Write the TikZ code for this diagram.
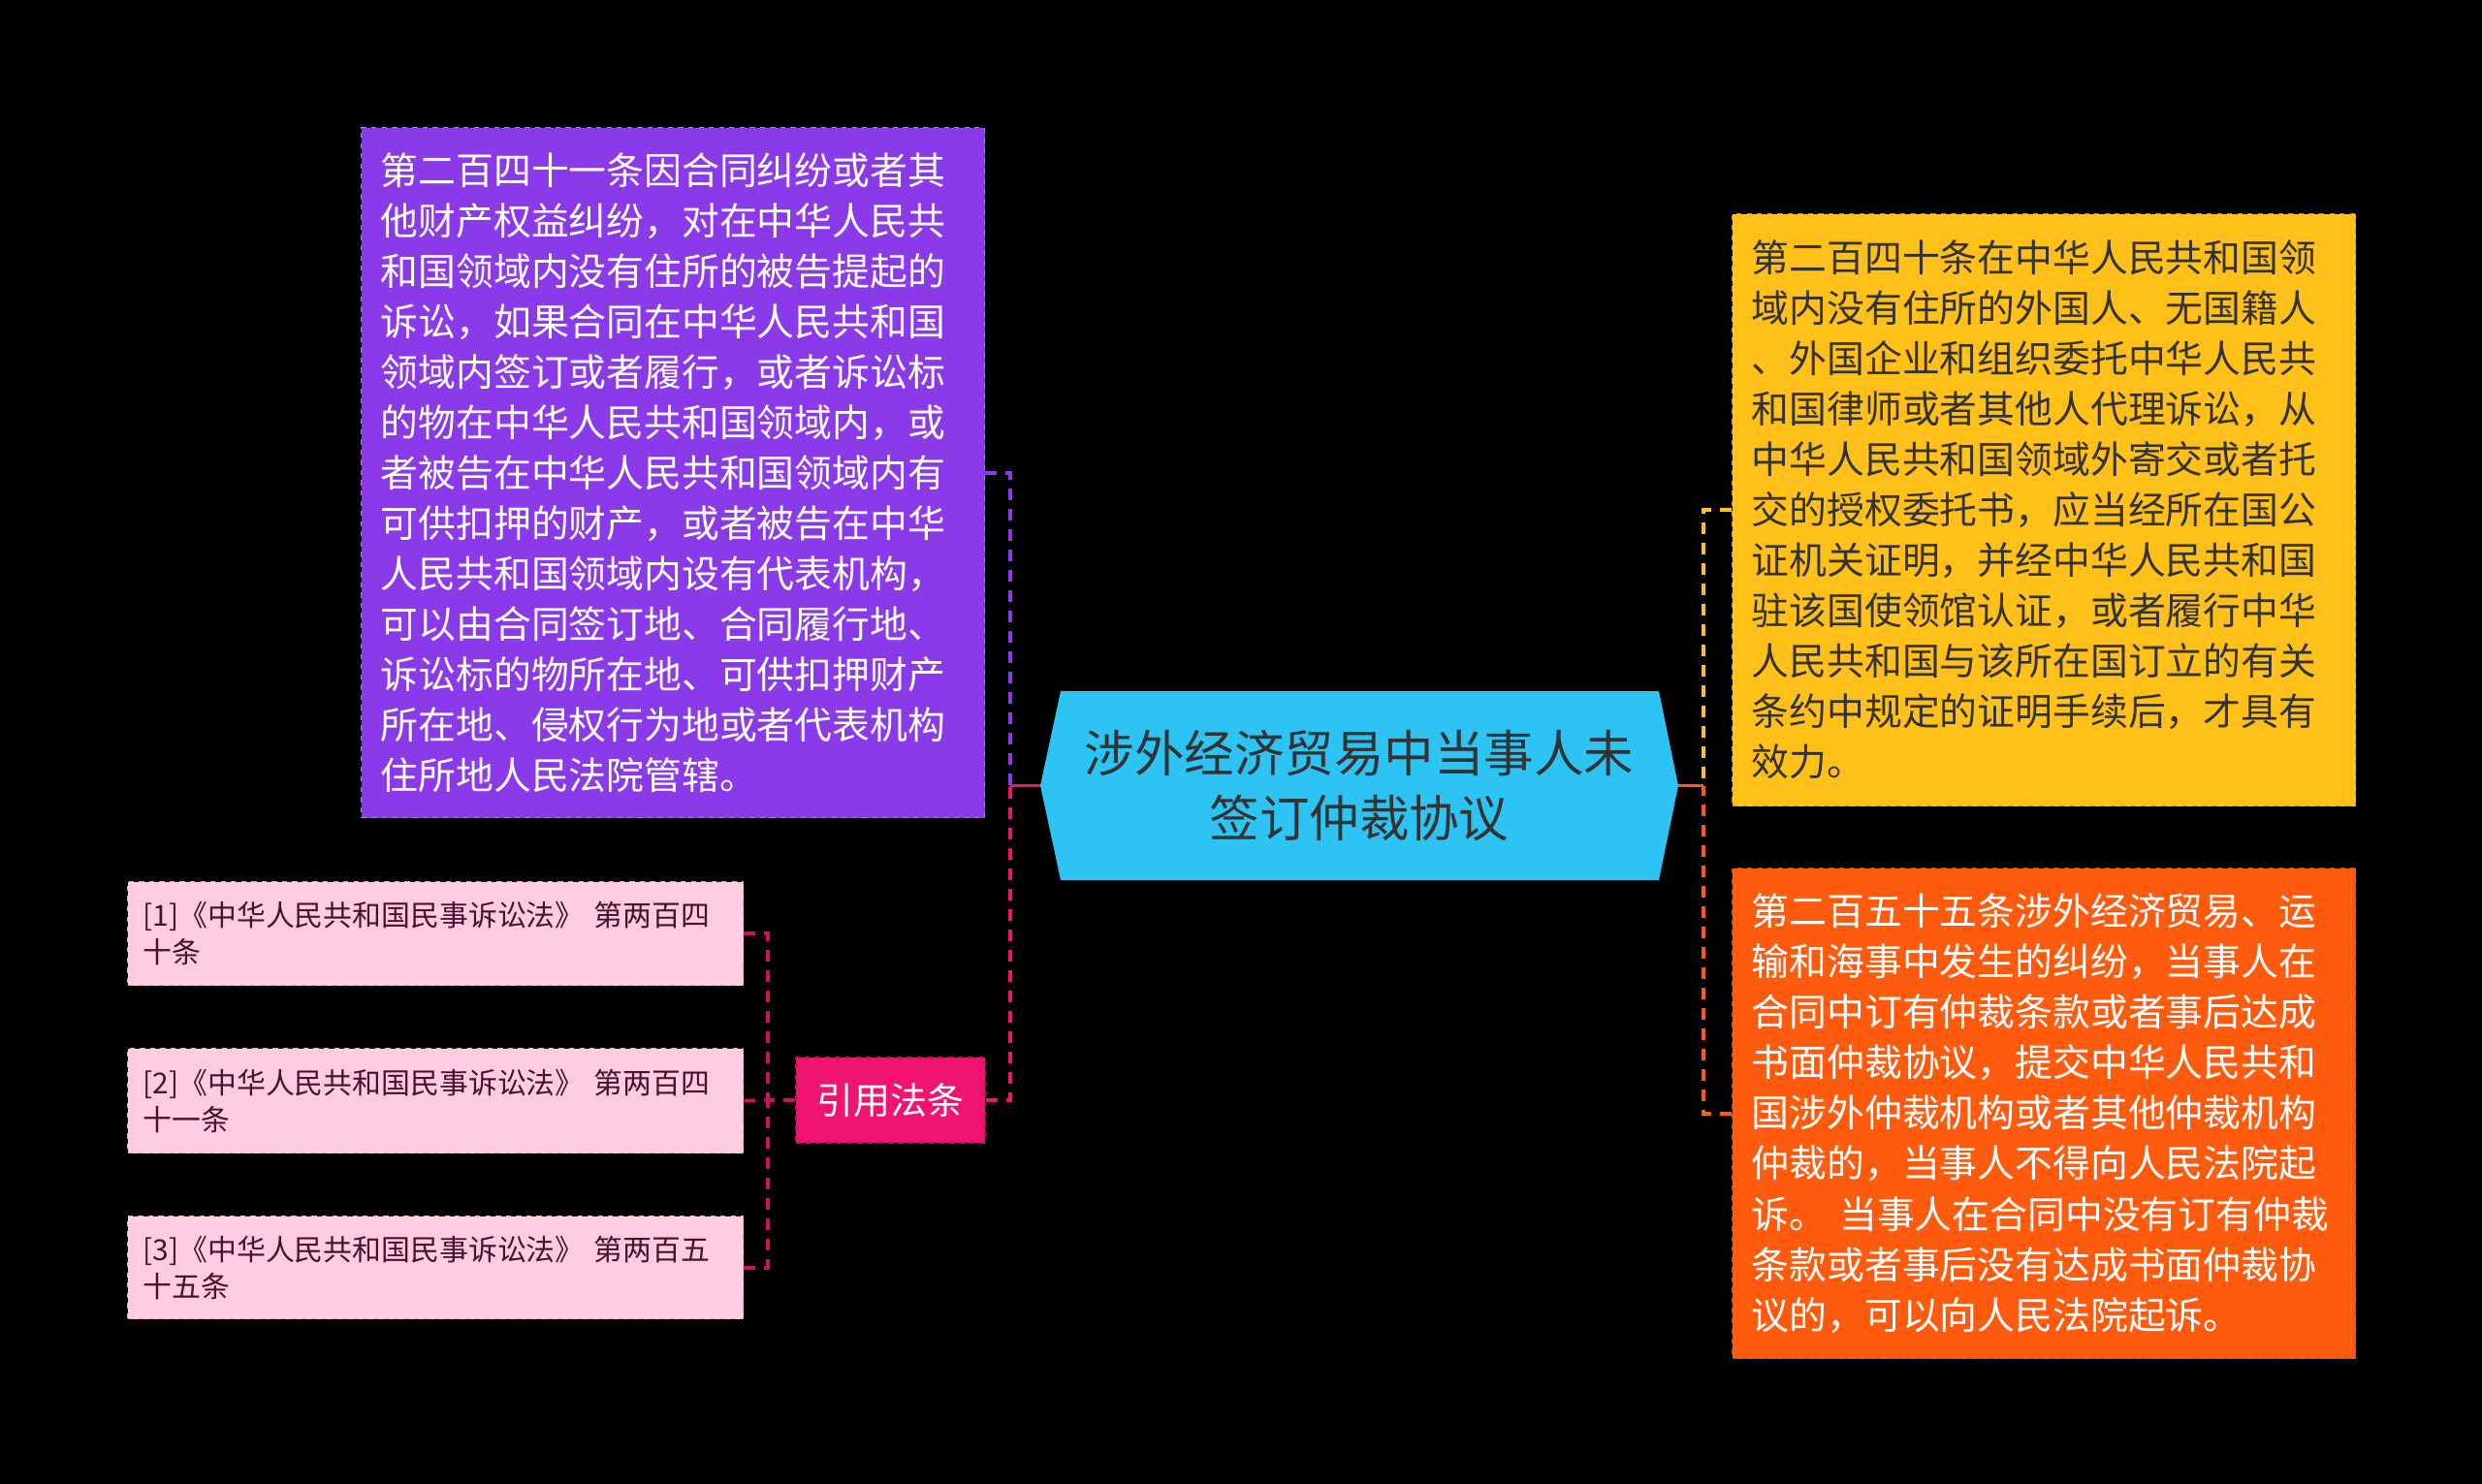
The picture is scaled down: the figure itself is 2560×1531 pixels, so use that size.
\documentclass[tikz,border=0pt]{standalone}
\usepackage{fontspec}
\setmainfont{Noto Sans CJK SC}

\definecolor{purplebg}{HTML}{8A3AE8}
\definecolor{yellowbg}{HTML}{FFC01A}
\definecolor{orangebg}{HTML}{FF5B0E}
\definecolor{topicblue}{HTML}{2DC3F3}
\definecolor{citepink}{HTML}{F01470}
\definecolor{refpink}{HTML}{FFCCE2}
\definecolor{reftext}{HTML}{4B1030}
\definecolor{darktext}{HTML}{333333}

\tikzset{
	lawbox/.style={rectangle, anchor=north west, text width=12.06cm, inner xsep=0.4cm, inner ysep=0pt, align=left, dashed, line width=0.8pt, font=\fontsize{22.1pt}{29.6pt}\selectfont},
	refbox/.style={rectangle, anchor=north west, text width=12.06cm, inner xsep=0.32cm, inner ysep=0pt, align=left, fill=refpink, draw=refpink!85!black, dashed, line width=0.8pt, text=reftext, font=\fontsize{17pt}{21.6pt}\selectfont},
	link/.style={line width=2.2pt, dash pattern=on 0.24cm off 0.18cm},
}

\begin{document}
\begin{tikzpicture}[x=0.02cm, y=-0.02cm]
		\fill[black] (0,0) rectangle (2560,1531);
		\fill[topicblue] (1073,810.5) -- (1094,713) -- (1711,713) -- (1731,810.5) -- (1711,908) -- (1094,908) -- cycle;
		\node[minimum width=13.16cm, minimum height=3.9cm, inner sep=0pt, align=center, text=darktext, font=\fontsize{29.3pt}{38pt}\selectfont] (topic) at (1402,810.5) {涉外经济贸易中当事人未\\签订仲裁协议};
		\node[lawbox, fill=purplebg, draw=purplebg!70!white, text=white, minimum height=14.24cm] (art241) at (372,131) {第二百四十一条因合同纠纷或者其\\他财产权益纠纷，对在中华人民共\\和国领域内没有住所的被告提起的\\诉讼，如果合同在中华人民共和国\\领域内签订或者履行，或者诉讼标\\的物在中华人民共和国领域内，或\\者被告在中华人民共和国领域内有\\可供扣押的财产，或者被告在中华\\人民共和国领域内设有代表机构，\\可以由合同签订地、合同履行地、\\诉讼标的物所在地、可供扣押财产\\所在地、侵权行为地或者代表机构\\住所地人民法院管辖。};
		\node[lawbox, fill=yellowbg, draw=yellowbg!80!black, text=darktext, minimum height=12.22cm] (art240) at (1786,220) {第二百四十条在中华人民共和国领\\域内没有住所的外国人、无国籍人\\、外国企业和组织委托中华人民共\\和国律师或者其他人代理诉讼，从\\中华人民共和国领域外寄交或者托\\交的授权委托书，应当经所在国公\\证机关证明，并经中华人民共和国\\驻该国使领馆认证，或者履行中华\\人民共和国与该所在国订立的有关\\条约中规定的证明手续后，才具有\\效力。};
		\node[lawbox, fill=orangebg, draw=orangebg!80!black, text=white, minimum height=10.12cm] (art255) at (1786,895) {第二百五十五条涉外经济贸易、运\\输和海事中发生的纠纷，当事人在\\合同中订有仲裁条款或者事后达成\\书面仲裁协议，提交中华人民共和\\国涉外仲裁机构或者其他仲裁机构\\仲裁的，当事人不得向人民法院起\\诉。 当事人在合同中没有订有仲裁\\条款或者事后没有达成书面仲裁协\\议的，可以向人民法院起诉。};
		\node[rectangle, fill=citepink, draw=citepink!80!black, dashed, line width=0.8pt, minimum width=3.9cm, minimum height=1.76cm, inner sep=0pt, text=white, font=\fontsize{21.6pt}{26pt}\selectfont] (cite) at (918.5,1135) {引用法条};
		\node[refbox, minimum height=2.14cm] (ref1) at (131,909) {[1]《中华人民共和国民事诉讼法》 第两百四\\十条};
		\node[refbox, minimum height=2.16cm] (ref2) at (131,1081) {[2]《中华人民共和国民事诉讼法》 第两百四\\十一条};
		\node[refbox, minimum height=2.12cm] (ref3) at (131,1254) {[3]《中华人民共和国民事诉讼法》 第两百五\\十五条};
		\coordinate (lj) at (1042,810.5);
		\coordinate (rj) at (1757,810.5);
		\coordinate (cj) at (792,1135);
		\draw[citepink, line width=2.2pt] (topic.west) -- (lj);
		\draw[orangebg, line width=2.2pt] (topic.east) -- (rj);
		\draw[purplebg, link] (art241.east) -| (lj);
		\draw[citepink, link] (cite.east) -| (lj);
		\draw[yellowbg, link] (art240.west) -| (rj);
		\draw[orangebg, link] (art255.west) -| (rj);
		\draw[citepink!85!black, link] (cite.west) -- (cj);
		\draw[citepink!85!black, link] (ref1.east) -| (cj);
		\draw[citepink!85!black, link] (ref2.east) -- (cj);
		\draw[citepink!85!black, link] (ref3.east) -| (cj);
		\end{tikzpicture}
\end{document}
